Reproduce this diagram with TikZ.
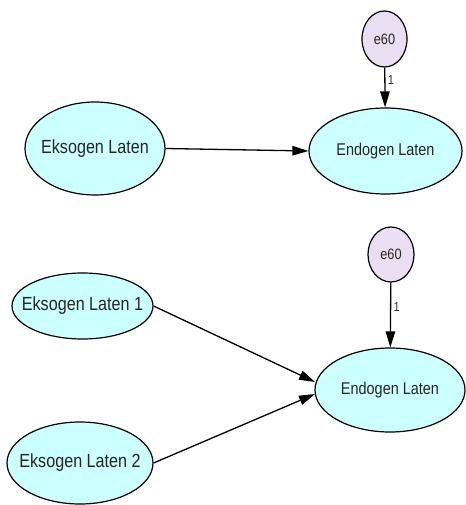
\documentclass[tikz,border=0pt]{standalone}
\usepackage{fontspec}
\setmainfont{Liberation Sans}
\newfontfamily\narrowfont[FakeStretch=0.85]{Liberation Sans}
\usetikzlibrary{shapes.geometric,arrows.meta}
\definecolor{latfill}{RGB}{204,255,255}
\definecolor{errfill}{RGB}{234,222,242}
\definecolor{lbl}{RGB}{60,45,30}
\tikzset{
  latent/.style={ellipse, draw=black, line width=1.2pt, fill=latfill, inner sep=0pt},
  exofont/.style={font=\narrowfont\fontsize{19}{21}\selectfont, text=black!85},
  endofont/.style={font=\narrowfont\fontsize{17}{19}\selectfont, text=black!85},
  errnode/.style={ellipse, draw=black, line width=1.2pt, fill=errfill, inner sep=0pt, minimum width=45pt, minimum height=56pt},
  errfont/.style={font=\narrowfont\fontsize{15}{17}\selectfont, text=black!85},
  path/.style={draw=black, line width=1.3pt, -{Triangle[length=16pt,width=9.5pt]}},
  wlabel/.style={font=\narrowfont\fontsize{13}{14}\selectfont, text=lbl}
}
\begin{document}
\begin{tikzpicture}[x=1pt,y=-1pt]
\useasboundingbox (0,0) rectangle (465,505);
% top model
\node[latent, minimum width=140pt, minimum height=93pt, label={[exofont]center:Eksogen Laten}] (ex) at (95,148.5) {};
\node[latent, minimum width=153pt, minimum height=86pt, label={[endofont]center:Endogen Laten}] (en) at (385.5,151) {};
\node[errnode, label={[errfont]center:e60}] (e1) at (384.5,39) {};
\draw[path] (e1) -- node[wlabel, right, xshift=-1pt, pos=0.3] {1} (en);
\draw[path] (ex.east) -- (en.west);
% bottom model
\node[latent, minimum width=141pt, minimum height=66pt, label={[exofont]center:Eksogen Laten 1}] (exa) at (82.5,306) {};
\node[latent, minimum width=146pt, minimum height=82pt, label={[exofont]center:Eksogen Laten 2}] (exb) at (80,463) {};
\node[latent, minimum width=150pt, minimum height=84pt, label={[endofont]center:Endogen Laten}] (en2) at (390,390) {};
\node[errnode, minimum width=46pt, minimum height=55pt, label={[errfont]center:e60}] (e2) at (391,254.5) {};
\draw[path] (e2) -- node[wlabel, right, xshift=-1pt, pos=0.38] {1} (en2);
\coordinate (t1) at (315,382);
\coordinate (t2) at (315,394);
\draw[path] (exa.east) -- (t1);
\draw[path] (exb.east) -- (t2);
\end{tikzpicture}
\end{document}
